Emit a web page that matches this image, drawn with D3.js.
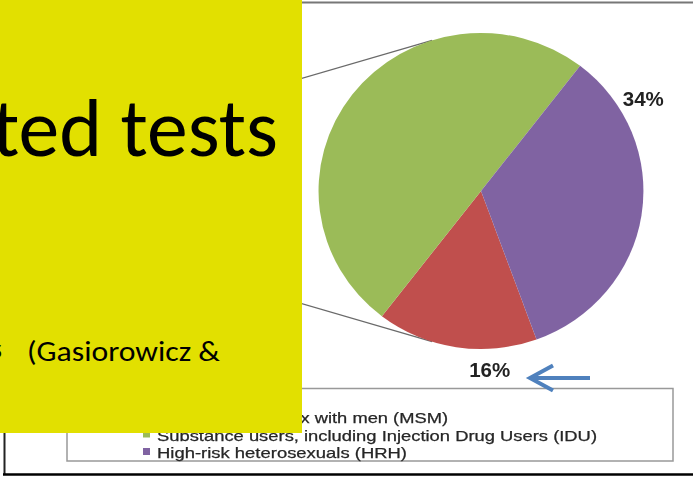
<!DOCTYPE html>
<html>
<head>
<meta charset="utf-8">
<script src="https://cdn.jsdelivr.net/npm/d3@7/dist/d3.min.js"></script>
<style>
  html, body { margin: 0; padding: 0; background: #fff; }
  svg { display: block; }
</style>
</head>
<body>
<svg id="chart" width="693" height="490"></svg>
<script>
// Risk groups, their share of the tests (%) and Office-style colours
const categories = [
  "Men who have sex with men (MSM)",
  "Substance users, including Injection Drug Users (IDU)",
  "High-risk heterosexuals (HRH)"
];
const shares = [16, 50, 34];
const colors = ["#C0504D", "#9BBB59", "#8064A2"];
const pctLabels = ["16%", "", "34%"];

// Slide text overlapping the chart
const titleText = "ted tests";
const citeText = "(Gasiorowicz &";

const W = 693, H = 490;
const svg = d3.select("#chart");

svg.append("rect").attr("width", W).attr("height", H).attr("fill", "#fff");

// soft look of the embedded chart picture
const defs = svg.append("defs");
defs.append("filter").attr("id", "soft")
  .append("feGaussianBlur").attr("stdDeviation", 0.55);

const chart = svg.append("g").attr("filter", "url(#soft)");

// frame of the embedded chart
chart.append("line").attr("x1", 0).attr("x2", W).attr("y1", 2.5).attr("y2", 2.5)
  .attr("stroke", "#777").attr("stroke-width", 2);
chart.append("line").attr("x1", 4.5).attr("x2", 4.5).attr("y1", 0).attr("y2", 475)
  .attr("stroke", "#222").attr("stroke-width", 2);
chart.append("line").attr("x1", 3).attr("x2", W).attr("y1", 474.5).attr("y2", 474.5)
  .attr("stroke", "#000").attr("stroke-width", 2.5);

// ---- pie ----
const cx = 481, cy = 191, R = 158, sx = 1.028;
const deg = Math.PI / 180;
const start = 160 * deg;
const pie = d3.pie().sort(null).value(d => d).startAngle(start).endAngle(start + 2 * Math.PI);
const arcs = pie(shares);
const arc = d3.arc().innerRadius(0).outerRadius(R);

const pieG = chart.append("g").attr("transform", `translate(${cx},${cy}) scale(${sx},1)`);

// series lines running from the pie edge to the secondary bar on the left
const connectorAngles = [342.5, 197.5];
const farX = -420;
connectorAngles.forEach(a => {
  const px = R * Math.sin(a * deg), py = -R * Math.cos(a * deg);
  const ex = farX, ey = py + (py > 0 ? -1 : 1) * 0.3 * (px - farX);
  pieG.append("line")
    .attr("x1", px).attr("y1", py).attr("x2", ex).attr("y2", ey)
    .attr("stroke", "#6a6a6a").attr("stroke-width", 1.3);
});

pieG.selectAll("path.slice").data(arcs).join("path")
  .attr("class", "slice")
  .attr("d", arc)
  .attr("fill", (d, i) => colors[i]);

// percentage labels, set outside the slices
const labelPlace = [{ f: 0.30, gap: 21 }, { f: 0.5, gap: 25 }, { f: 0.18, gap: 25 }];
arcs.forEach((d, i) => {
  if (!pctLabels[i]) return;
  const a = d.startAngle + labelPlace[i].f * (d.endAngle - d.startAngle);
  const r = R + labelPlace[i].gap;
  chart.append("text")
    .attr("x", cx + sx * r * Math.sin(a))
    .attr("y", cy - r * Math.cos(a))
    .attr("dy", "0.36em")
    .attr("text-anchor", "middle")
    .attr("font-family", "Liberation Sans, Arial, sans-serif")
    .attr("font-weight", "bold")
    .attr("font-size", 20.5)
    .attr("fill", "#222")
    .text(pctLabels[i]);
});

// ---- legend ----
const legend = chart.append("g");
legend.append("rect")
  .attr("x", 67).attr("y", 388.5).attr("width", 606).attr("height", 72.5)
  .attr("fill", "#fff").attr("stroke", "#999").attr("stroke-width", 1.5);

const legendBase = [423, 440.5, 458];
const legendLen = [291, 440, 250];
legend.selectAll("rect.key").data(categories).join("rect")
  .attr("class", "key")
  .attr("x", 143).attr("y", (d, i) => legendBase[i] - 10)
  .attr("width", 7).attr("height", 7)
  .attr("fill", (d, i) => colors[i]);
legend.selectAll("text.item").data(categories).join("text")
  .attr("class", "item")
  .attr("x", 157).attr("y", (d, i) => legendBase[i])
  .attr("font-family", "Liberation Sans, Arial, sans-serif")
  .attr("font-size", 14.5)
  .attr("fill", "#262626")
  .attr("stroke", "#262626").attr("stroke-width", 0.25)
  .attr("textLength", (d, i) => legendLen[i])
  .attr("lengthAdjust", "spacingAndGlyphs")
  .text(d => d);

// ---- arrow pointing at the 16% label ----
svg.append("path")
  .attr("d", "M590,378 L531,378 M553,365.5 L530,378 L553,390.5")
  .attr("fill", "none").attr("stroke", "#4F81BD").attr("stroke-width", 4)
  .attr("stroke-linecap", "butt").attr("stroke-linejoin", "miter");

// ---- slide text box ----
svg.append("rect").attr("x", 0).attr("y", 0).attr("width", 302).attr("height", 433)
  .attr("fill", "#E2E000");

svg.append("text")
  .attr("x", -8).attr("y", 156)
  .attr("font-family", "Carlito, Calibri, Lato, sans-serif")
  .attr("font-size", 82)
  .attr("fill", "#000")
  .attr("textLength", 286)
  .attr("lengthAdjust", "spacingAndGlyphs")
  .text(titleText);

svg.append("text")
  .attr("x", 2).attr("y", 358)
  .attr("text-anchor", "end")
  .attr("font-family", "Carlito, Calibri, Lato, sans-serif")
  .attr("font-size", 28)
  .attr("fill", "#000")
  .text("s");

svg.append("text")
  .attr("x", 27).attr("y", 361)
  .attr("font-family", "Carlito, Calibri, Lato, sans-serif")
  .attr("font-size", 28)
  .attr("fill", "#000")
  .attr("textLength", 193)
  .attr("lengthAdjust", "spacingAndGlyphs")
  .text(citeText);
</script>
</body>
</html>
